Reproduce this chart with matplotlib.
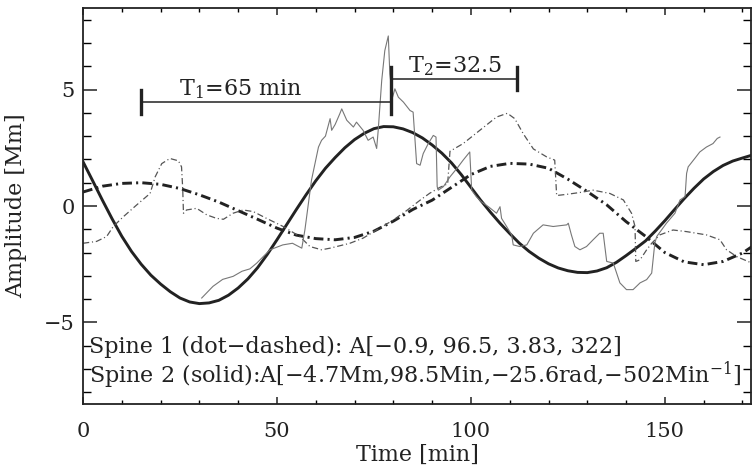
import matplotlib
matplotlib.use("Agg")
import matplotlib.pyplot as plt
from matplotlib.ticker import MultipleLocator

plt.rcParams["font.family"] = ["DejaVu Serif"]
plt.rcParams["mathtext.fontset"] = "dejavuserif"
plt.rcParams["lines.scale_dashes"] = False

# =========================
# data
# =========================
# spine 2 fit (thick solid)
fit2_t = [0, 2.5, 5, 7.5, 10, 12.5, 15, 17.5, 20, 22.5, 25, 27.5, 30, 32.5,
          35, 37.5, 40, 42.5, 45, 47.5, 50, 52.5, 55, 57.5, 60, 62.5, 65, 67.5,
          70, 72.5, 75, 77.5, 80, 82.5, 85, 87.5, 90, 92.5, 95, 97.5, 100,
          102.5, 105, 107.5, 110, 112.5, 115, 117.5, 120, 122.5, 125, 127.5,
          130, 132.5, 135, 137.5, 140, 142.5, 145, 147.5, 150, 152.5, 155,
          157.5, 160, 162.5, 165, 167.5, 170, 172.4]
fit2_a = [1.90, 1.08, 0.25, -0.55, -1.30, -1.95, -2.50, -2.97, -3.35, -3.68,
          -3.95, -4.12, -4.19, -4.16, -4.05, -3.83, -3.52, -3.13, -2.65, -2.08,
          -1.45, -0.80, -0.15, 0.48, 1.08, 1.62, 2.08, 2.50, 2.85, 3.12, 3.32,
          3.41, 3.40, 3.31, 3.15, 2.92, 2.62, 2.27, 1.85, 1.35, 0.80, 0.25,
          -0.26, -0.74, -1.18, -1.60, -1.95, -2.24, -2.48, -2.66, -2.78, -2.85,
          -2.86, -2.79, -2.65, -2.42, -2.13, -1.82, -1.50, -1.08, -0.63, -0.15,
          0.32, 0.76, 1.16, 1.48, 1.74, 1.93, 2.06, 2.18]

# spine 1 fit (thick dot-dashed)
fit1_t = [0, 5, 10, 15, 20, 25, 30, 35, 40, 45, 50, 55, 60, 65, 70, 75, 80, 85,
          90, 95, 100, 105, 110, 115, 120, 125, 130, 135, 140, 145, 150, 155,
          160, 165, 170, 172.4]
fit1_a = [0.60, 0.85, 0.97, 1.00, 0.93, 0.75, 0.48, 0.17, -0.20, -0.57, -0.95,
          -1.25, -1.40, -1.45, -1.35, -1.08, -0.65, -0.15, 0.25, 0.80, 1.35,
          1.70, 1.83, 1.80, 1.62, 1.15, 0.62, 0.05, -0.67, -1.30, -2.00, -2.40,
          -2.52, -2.38, -2.02, -1.75]

# spine 1 measured (thin dot-dashed)
sp1_t = [0, 3.5, 6.1, 7.8, 10.4, 13.8, 17.3, 18.6, 20.3, 22.4, 24.6, 25.4, 25.7,
         25.9, 26.7, 29.3, 31.9, 34.4, 36.2, 38.7, 41.3, 43.9, 47.3, 51.6, 55.9,
         58.5, 61.5, 63.7, 68.8, 72.2, 75.7, 80, 83.4, 86.9, 89.4, 92, 94, 94.6,
         98, 102.3, 106.6, 109.4, 111.3, 113.5, 116.1, 119.5, 121.6, 122.1,
         124.7, 128.1, 131.5, 135.8, 139.3, 141.4, 142.3, 142.5, 143.6, 145.3,
         146.6, 148.7, 152.1, 155.6, 160.7, 164.2, 165.9, 168.5, 172.4]
sp1_a = [-1.60, -1.52, -1.31, -0.88, -0.46, 0.04, 0.54, 1.25, 1.82, 2.04, 1.94,
         1.68, 0.76, -0.31, -0.17, -0.10, -0.38, -0.53, -0.57, -0.31, -0.17,
         -0.24, -0.53, -0.88, -1.31, -1.74, -1.88, -1.81, -1.60, -1.38, -1.03,
         -0.60, -0.20, 0.25, 0.55, 0.80, 0.95, 2.35, 2.68, 3.25, 3.82, 3.98,
         3.75, 3.10, 2.45, 2.11, 1.97, 0.45, 0.50, 0.58, 0.68, 0.54, 0.26,
         -0.31, -0.88, -2.38, -2.31, -1.88, -1.60, -1.24, -1.03, -1.10, -1.24,
         -1.45, -1.88, -2.17, -2.45]

# spine 2 measured (thin solid)
sp2_t = [30.6, 33.5, 36, 38.7, 41, 43, 44.8, 48.2, 51.5, 54, 56.4, 57.2, 58.9,
         60.7, 61.5, 62.5, 63.7, 64.1, 65, 66.2, 66.7, 68, 69.7, 70.5, 72.2,
         73.5, 74.8, 75.7, 76.1, 77, 77.8, 78.7, 79.1, 79.8, 80.4, 81.3, 82.6,
         84.3, 85.1, 86, 86.9, 87.7, 89, 90.3, 91, 91.3, 91.6, 92.9, 94.6, 96.7,
         98, 99.7, 100.2, 101.4, 102.7, 104.5, 106.6, 107.5, 107.9, 109.2,
         110.5, 110.9, 112.6, 114.4, 116.1, 118.6, 121.2, 124.7, 125.1, 125.9,
         126.8, 128.1, 129.8, 131.5, 133.2, 134.1, 135, 136.7, 138.4, 140.1,
         141.8, 143.6, 145.3, 146.6, 147.4, 147.9, 150.4, 152.6, 153.9, 155.2,
         155.6, 156, 157.7, 159, 160.7, 162.4, 163.5, 164.2]
sp2_a = [-3.95, -3.45, -3.15, -3.02, -2.80, -2.70, -2.45, -1.88, -1.67, -1.60,
         -1.81, -1.03, 1.11, 2.53, 2.82, 3.00, 3.75, 3.25, 3.50, 3.96, 4.17,
         3.68, 3.39, 3.60, 3.25, 2.82, 2.96, 2.47, 3.25, 5.38, 6.67, 7.30, 5.67,
         4.67, 5.03, 4.67, 4.46, 4.10, 4.03, 1.82, 1.75, 2.25, 2.68, 3.03, 2.96,
         0.83, 0.68, 0.83, 1.25, 1.68, 1.97, 2.32, 0.68, 0.40, 0.18, -0.03,
         -0.31, -0.03, -0.53, -0.88, -1.24, -1.67, -1.74, -1.67, -1.17, -0.81,
         -0.88, -0.81, -0.74, -1.24, -1.74, -1.88, -1.74, -1.45, -1.17, -1.17,
         -2.38, -2.45, -3.30, -3.59, -3.59, -3.30, -3.16, -2.88, -1.60, -1.31,
         -0.74, -0.31, 0.26, 0.40, 1.40, 1.68, 2.04, 2.32, 2.53, 2.68, 2.90,
         2.96]

# period bars: (start, end, level)
bar1 = (15.0, 79.5, 4.46)
bar2 = (79.5, 111.9, 5.46)

# =========================
# plot
# =========================
fig = plt.figure(figsize=(7.52, 4.72), dpi=100)
ax = fig.add_axes([83 / 752, 68 / 472, 668 / 752, 396 / 472])

ink = "#222222"
ax.plot(fit2_t, fit2_a, color=ink, lw=2.1, solid_joinstyle="round")
ax.plot(fit1_t, fit1_a, color=ink, lw=2.1,
        linestyle=(0, (7, 3, 1.5, 3)))
ax.plot(sp1_t, sp1_a, color="#555555", lw=0.9,
        linestyle=(0, (4.5, 2, 0.8, 2)))
ax.plot(sp2_t, sp2_a, color="#777777", lw=0.8)

# period bars
ax.plot([bar1[0], bar1[1]], [bar1[2], bar1[2]], color=ink, lw=1.1)
ax.plot([bar2[0], bar2[1]], [bar2[2], bar2[2]], color=ink, lw=1.1)
ax.plot([bar1[0], bar1[0]], [3.97, 4.96], color=ink, lw=2.4)
ax.plot([bar1[1], bar1[1]], [3.96, 5.95], color=ink, lw=2.4)
ax.plot([bar2[1], bar2[1]], [4.96, 5.95], color=ink, lw=2.4)

fs = 16
ax.text(40.7, 4.75, r"T$_1$=65 min", ha="center", va="baseline",
        fontsize=fs, color=ink)
ax.text(95.9, 5.72, r"T$_2$=32.5", ha="center", va="baseline",
        fontsize=fs, color=ink)

ax.text(1.5, -6.32, "Spine 1 (dot\u2212dashed): A[\u22120.9, 96.5, 3.83, 322]",
        fontsize=fs, color=ink, va="baseline")
ax.text(1.5, -7.6,
        "Spine 2 (solid):A[\u22124.7Mm,98.5Min,\u221225.6rad,\u2212502Min$^{-1}$]",
        fontsize=fs, color=ink, va="baseline")

ax.set_xlim(0, 172.2)
ax.set_ylim(-8.5, 8.5)
ax.xaxis.set_major_locator(MultipleLocator(50))
ax.xaxis.set_minor_locator(MultipleLocator(10))
ax.yaxis.set_major_locator(MultipleLocator(5))
ax.yaxis.set_minor_locator(MultipleLocator(1))
ax.tick_params(axis="x", which="major", direction="in", length=5, width=1.1,
               top=True, pad=13, labelsize=15, colors=ink)
ax.tick_params(axis="x", which="minor", direction="in", length=2.6, width=1.0,
               top=True)
ax.tick_params(axis="y", which="major", direction="in", length=10, width=1.1,
               right=True, pad=6, labelsize=15, colors=ink)
ax.tick_params(axis="y", which="minor", direction="in", length=5.5, width=1.0,
               right=True)
ax.yaxis.set_major_formatter(plt.FuncFormatter(
    lambda v, p: f"{v:.0f}".replace("-", "\u2212")))
for s in ax.spines.values():
    s.set_linewidth(1.3)
    s.set_color(ink)

ax.set_xlabel("Time [min]", fontsize=fs, color=ink, labelpad=2)
ax.set_ylabel("Amplitude [Mm]", fontsize=fs, color=ink, labelpad=12)

fig.savefig("out.png", dpi=100)
